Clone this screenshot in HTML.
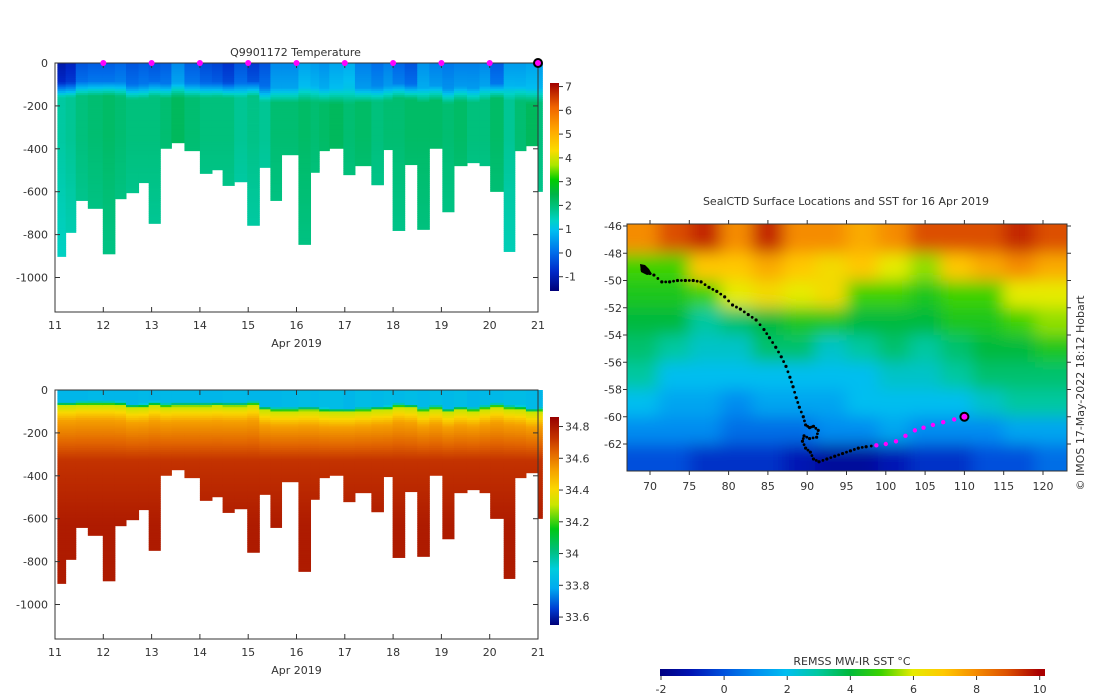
<!DOCTYPE html>
<html><head><meta charset="utf-8"><style>
html,body{margin:0;padding:0;background:#fff;}
svg{display:block;font-family:"DejaVu Sans","Liberation Sans",sans-serif;}
text{fill:#333;font-size:11px;}
</style></head><body>
<svg id="root" width="1100" height="696" viewBox="0 0 1100 696" xmlns="http://www.w3.org/2000/svg">
<defs>
<clipPath id="mapclip"><rect x="627" y="224" width="440" height="247"/></clipPath>
<filter id="blur" x="-5%" y="-5%" width="110%" height="110%"><feGaussianBlur stdDeviation="8"/></filter>
<linearGradient id="tgrad" x1="0" y1="1" x2="0" y2="0"></linearGradient>
<linearGradient id="sgrad" x1="0" y1="1" x2="0" y2="0"></linearGradient>
<linearGradient id="sstgrad" x1="0" y1="0" x2="1" y2="0"></linearGradient>
</defs>
<g id="g-temp"></g>
<g id="g-sal"></g>
<g id="g-map"></g>
</svg>
<script>
const NS="http://www.w3.org/2000/svg";
// ---- section data ----
const profileEdges=[11.05,11.22,11.43,11.68,11.99,12.24,12.47,12.73,12.94,13.18,13.41,13.68,14.0,14.25,14.47,14.71,14.98,15.23,15.46,15.69,16.04,16.29,16.47,16.68,16.97,17.21,17.55,17.8,17.99,18.24,18.5,18.75,19.02,19.26,19.53,19.79,20.01,20.29,20.52,20.75,21.0,21.09];
const maxDepth=[902,790,641,678,890,633,605,558,748,398,372,409,515,498,571,554,757,487,641,428,846,510,409,398,521,479,568,404,781,474,776,398,694,479,465,479,599,879,409,386,599];
const surfTemp=[-1.1,-0.9,-0.3,-0.2,-0.2,-0.1,-0.3,-0.2,-0.3,-0.2,0.3,-0.2,-0.4,-0.5,-0.7,-0.3,-0.6,-0.3,0.3,0.3,0.6,0.5,0.4,0.6,0.7,0.2,0,0.2,-0.1,-0.3,0.4,0.2,0.1,0.2,0.2,0.3,-0.2,0.5,0.5,0.6,0.5];
const midTemp=[1.6,1.7,1.9,2.0,2.1,2.0,1.9,1.9,1.9,2.0,2.2,2.0,1.9,1.9,1.9,1.7,1.8,1.7,2.0,2.0,2.1,2.0,2.1,2.2,2.0,2.1,1.9,2.0,2.0,2.1,2.1,2.1,2.0,2.1,1.9,1.9,2.1,1.7,2.0,2.2,1.9];
const mixedDepth=[70,70,65,65,65,68,80,78,68,75,72,72,72,70,72,72,65,90,95,95,92,92,98,100,100,95,90,88,75,80,95,85,100,90,95,85,75,85,88,100,95];
const surfSal=[33.82,33.82,33.82,33.83,33.82,33.82,33.82,33.83,33.82,33.83,33.83,33.83,33.82,33.82,33.83,33.83,33.82,33.82,33.82,33.83,33.84,33.83,33.84,33.84,33.82,33.84,33.83,33.84,33.83,33.84,33.83,33.84,33.83,33.84,33.82,33.83,33.83,33.84,33.84,33.83,33.82];
const tempTicks=[0,-200,-400,-600,-800,-1000];
const dayTicks=[11,12,13,14,15,16,17,18,19,20,21];
const markerDays=[12,13,14,15,16,17,18,19,20];
const tempCbTicks=[7,6,5,4,3,2,1,0,-1];
const salCbTicks=[34.8,34.6,34.4,34.2,34,33.8,33.6];
// ---- map data ----
const sstLons=[69,73,77,81,85,89,93,97,101,105,109,113,117,121];
const sstLats=[-47,-49,-51,-53,-55,-57,-59,-61,-63];
const sstGrid=[
[8,9,9.5,8,9.5,8,8,7.5,8,9,9,9,9.5,9],
[5,5,7,7,7.5,7,6.5,7,6,5.5,7,7.5,8,7.5],
[4.5,4.5,5,6,6.5,6,6.5,5,5,4.5,5,5,6,6],
[4,4,3,3.5,4,4.5,4.5,4,4,4,4.5,4.5,5,5.5],
[3.5,3,2.5,2.5,3.5,3.5,2.5,3,3.5,3,3.5,4,4,4.5],
[3,2,2,2,2,2,2,2,2.5,2.5,3,3.5,3.5,3.5],
[2,1.5,1.5,1,1.5,1.5,1.5,2,2,2,2,2.5,3,3],
[1,1,1,0.5,0.5,0.5,1,1,1.5,1,1,1,1.5,1.5],
[0,0,-0.5,-0.5,-0.5,-1,-1.5,-1.5,-1,-0.5,-0.5,0,0,0.5]];
const trackLon=[69,69.5,70.5,71.5,72.5,73.5,74.5,75.5,76.5,77.5,78.5,79.5,80.5,81.5,82.5,83.5,84.5,85.2,86,86.7,87.3,87.8,88.2,88.6,89,89.5,89.8,90.3,90.8,91.4,91.2,90.3,89.6,89.4,89.8,90.4,90.8,91.5,92.5,93.5,94.5,95.5,96.5,97.5,98.8,100,101.3,102.5,103.7,104.8,106,107.3,108.7,110];
const trackLat=[-49.2,-49.4,-49.6,-50.1,-50.1,-50.0,-50.0,-50.0,-50.1,-50.5,-50.8,-51.2,-51.8,-52.1,-52.5,-52.9,-53.6,-54.2,-54.9,-55.6,-56.3,-57.1,-57.8,-58.6,-59.3,-60.0,-60.6,-60.8,-60.7,-61.0,-61.5,-61.6,-61.4,-61.8,-62.3,-62.6,-63.1,-63.3,-63.1,-62.9,-62.7,-62.5,-62.3,-62.2,-62.1,-62.0,-61.8,-61.4,-61.0,-60.8,-60.6,-60.4,-60.2,-60.0];
const magentaFromIndex=44;
const mapLonTicks=[70,75,80,85,90,95,100,105,110,115,120];
const mapLatTicks=[-46,-48,-50,-52,-54,-56,-58,-60,-62];
const sstCbTicks=[-2,0,2,4,6,8,10];

// ---- colormaps ----
const tempStops=[[-1.6,[0,0,120]],[-0.8,[0,40,200]],[0,[0,110,235]],[0.9,[0,190,240]],[1.3,[0,210,200]],[1.8,[0,195,135]],[2.4,[0,180,70]],[3,[0,205,0]],[3.6,[170,230,0]],[4.2,[250,220,0]],[5,[255,170,0]],[6,[240,100,0]],[7,[160,0,0]]];
const salStops=[[33.55,[0,0,120]],[33.65,[0,60,210]],[33.78,[0,170,240]],[33.9,[0,205,220]],[34.02,[0,190,120]],[34.15,[0,200,20]],[34.3,[200,230,0]],[34.4,[250,215,0]],[34.52,[245,160,0]],[34.63,[225,100,0]],[34.72,[195,50,0]],[34.85,[150,0,0]]];
const sstStops=[[-2,[0,0,130]],[-1,[0,20,180]],[0,[0,80,220]],[1,[0,140,240]],[2,[0,190,240]],[3,[0,200,160]],[4,[0,185,60]],[5,[60,210,0]],[6,[230,235,0]],[7,[255,200,0]],[8,[245,140,0]],[9,[220,80,0]],[10,[170,0,0]]];
function cmap(stops,v){
  if(v<=stops[0][0])return rgb(stops[0][1]);
  for(let i=1;i<stops.length;i++){if(v<=stops[i][0]){const a=stops[i-1],b=stops[i],t=(v-a[0])/(b[0]-a[0]);return rgb(a[1].map((c,k)=>c+(b[1][k]-c)*t));}}
  return rgb(stops[stops.length-1][1]);
}
function rgb(c){return "rgb("+c.map(x=>Math.round(x)).join(",")+")";}
function el(tag,attrs,parent){const e=document.createElementNS(NS,tag);for(const k in attrs)e.setAttribute(k,attrs[k]);parent.appendChild(e);return e;}
function txt(str,x,y,anchor,parent,size){const t=el("text",{x:x,y:y,"text-anchor":anchor||"middle"},parent);if(size)t.setAttribute("font-size",size);t.textContent=str;return t;}
function fillGrad(id,stops,lo,hi){const g=document.getElementById(id);stops.forEach(s=>{el("stop",{offset:((s[0]-lo)/(hi-lo)),"stop-color":rgb(s[1])},g);});}
fillGrad("tgrad",tempStops,-1.6,7);
fillGrad("sgrad",salStops,33.55,34.85);
fillGrad("sstgrad",sstStops,-2,10.2);

function tempAt(i,d){const md=mixedDepth[i]+20;if(d<md)return surfTemp[i]+(d/md)*0.3;if(d<md+70)return surfTemp[i]+0.3+(midTemp[i]-surfTemp[i]-0.3)*(d-md)/70;if(d<350)return midTemp[i];return midTemp[i]-0.25*Math.min(1,(d-350)/500);}
function salAt(i,d){const md=mixedDepth[i]-15;if(d<md)return surfSal[i];if(d<md+20)return surfSal[i]+(34.3-surfSal[i])*(d-md)/20;if(d<md+90)return 34.3+0.22*(d-md-20)/70;if(d<330)return 34.52+0.2*(d-md-90)/(330-md-90);return 34.72+0.06*Math.min(1,(d-330)/300);}

function section(gid,top,valFn,stops,cbGrad,cbTop,cbBot,cbTicks,cbLo,cbHi,title,isTemp){
  const g=document.getElementById(gid);
  const x0=55,x1=538,pxDay=(x1-x0)/10,y0=top,pxM=0.2145,yBot=top+249;
  const xs=d=>x0+(d-11)*pxDay, ys=m=>y0+m*pxM;
  const cells=el("g",{},g);
  
  
  for(let i=0;i<maxDepth.length;i++){
    const xa=xs(profileEdges[i]),xb=xs(profileEdges[i+1]);
    for(let d=0;d<maxDepth[i];d+=10){
      const h=Math.min(10,maxDepth[i]-d);
      const r=el("rect",{x:xa,y:ys(d),width:xb-xa+0.5,height:h*pxM+0.4,fill:cmap(stops,valFn(i,d+5))},cells);
      
      
    }
  }
  const ax=el("g",{},g);
  
  
  el("rect",{x:x0,y:y0,width:x1-x0,height:yBot-y0,fill:"none",stroke:"#333","stroke-width":1},ax);
  tempTicks.forEach(v=>{const y=ys(-v);el("line",{x1:x0,x2:x0+5,y1:y,y2:y,stroke:"#333"},ax);el("line",{x1:x1,x2:x1-5,y1:y,y2:y,stroke:"#333"},ax);const t=txt(String(v),x0-7,y+4,"end",ax);});
  dayTicks.forEach(v=>{const x=xs(v);el("line",{x1:x,x2:x,y1:yBot,y2:yBot-5,stroke:"#333"},ax);el("line",{x1:x,x2:x,y1:y0,y2:y0+5,stroke:"#333"},ax);const t=txt(String(v),x,yBot+17,"middle",ax);});
  const xl=txt("Apr 2019",(x0+x1)/2,yBot+35,"middle",ax);
  
  if(title){const tt=txt(title,(x0+x1)/2-1,y0-7,"middle",ax);tt.setAttribute("xml:space","preserve");}
  if(isTemp){
    markerDays.forEach(v=>{const c=el("circle",{cx:xs(v),cy:y0,r:3,fill:"#f0f"},ax);});
    const c=el("circle",{cx:xs(21),cy:y0,r:4,fill:"#f0f",stroke:"#000","stroke-width":2},ax);
  }
  const cb=el("g",{},g);
  
  
  el("rect",{x:550,y:cbTop,width:9,height:cbBot-cbTop,fill:"url(#"+cbGrad+")"},cb);
  cbTicks.forEach(v=>{const y=cbBot-(v-cbLo)/(cbHi-cbLo)*(cbBot-cbTop);el("line",{x1:559,x2:563,y1:y,y2:y,stroke:"#333"},cb);const t=txt(String(v),565,y+4,"start",cb);});
}
section("g-temp",63,tempAt,tempStops,"tgrad",83,291,tempCbTicks,-1.6,7.15,"Q9901172  Temperature",true);
section("g-sal",390,salAt,salStops,"sgrad",417,625,salCbTicks,33.55,34.86,null,false);

// ---- map ----
(function(){
  const g=document.getElementById("g-map");
  const L=627,R=1067,T=224,B=471;
  const xs=lon=>650+(lon-70)*(393/50), ys=lat=>226+(-46-lat)*(218/16);
  const field=el("g",{"clip-path":"url(#mapclip)"},g);
  
  
  const inner=el("g",{filter:"url(#blur)"},field);
  const dl=4*393/50, dt=2*218/16;
  for(let r=0;r<sstLats.length;r++)for(let c=0;c<sstLons.length;c++){
    const cx=xs(sstLons[c]),cy=ys(sstLats[r]);
    const rc=el("rect",{x:cx-dl/2-(c==0?30:0),y:cy-dt/2-(r==0?30:0),width:dl+1+(c==0?30:0)+(c==sstLons.length-1?30:0),height:dt+1+(r==0?30:0)+(r==sstLats.length-1?30:0),fill:cmap(sstStops,sstGrid[r][c])},inner);
    
    
  }
  for(let i=0;i<trackLon.length;i++){
    const mag=i>=magentaFromIndex;
    const p=el("circle",{cx:xs(trackLon[i]),cy:ys(trackLat[i]),r:mag?2.2:1.6,fill:mag?"#f0f":"#000"},g);
    
    
    if(i<trackLon.length-1&&!mag){const m=el("circle",{cx:xs((trackLon[i]+trackLon[i+1])/2),cy:ys((trackLat[i]+trackLat[i+1])/2),r:1.4,fill:"#000"},g);}
  }
  const last=trackLon.length-1;
  const cur=el("circle",{cx:xs(trackLon[last]),cy:ys(trackLat[last]),r:4,fill:"#f0f",stroke:"#000","stroke-width":2},g);
  
  const isl=el("path",{d:"M640,264 l5,1 l4,4 l3,5 l-5,1 l-6,-3 z",fill:"#000"},g);
  
  el("rect",{x:L,y:T,width:R-L,height:B-T,fill:"none",stroke:"#333"},g);
  mapLonTicks.forEach(v=>{const x=xs(v);el("line",{x1:x,x2:x,y1:T,y2:T-4,stroke:"#333"},g);el("line",{x1:x,x2:x,y1:B,y2:B+4,stroke:"#333"},g);const t=txt(String(v),x,B+19,"middle",g);});
  mapLatTicks.forEach(v=>{const y=ys(v);el("line",{x1:L,x2:L-4,y1:y,y2:y,stroke:"#333"},g);el("line",{x1:R,x2:R+4,y1:y,y2:y,stroke:"#333"},g);const t=txt(String(v),L-5,y+4,"end",g);});
  const tt=txt("SealCTD Surface Locations and SST for 16 Apr 2019",846,205,"middle",g);
  
  const cr=txt("© IMOS 17-May-2022 18:12 Hobart",0,0,"middle",g,10);
  cr.setAttribute("transform","translate(1084,393) rotate(-90)");
  
  const cx0=660,cx1=1045;
  const cb=el("rect",{x:cx0,y:669,width:cx1-cx0,height:7,fill:"url(#sstgrad)"},g);
  
  sstCbTicks.forEach(v=>{const x=cx0+(v+2)/12.2*(cx1-cx0)+1;el("line",{x1:x,x2:x,y1:676,y2:680,stroke:"#333"},g);const t=txt(String(v),x,693,"middle",g);});
  const lab=txt("REMSS MW-IR SST °C",852,665,"middle",g);
  
})();
</script>
</body></html>
